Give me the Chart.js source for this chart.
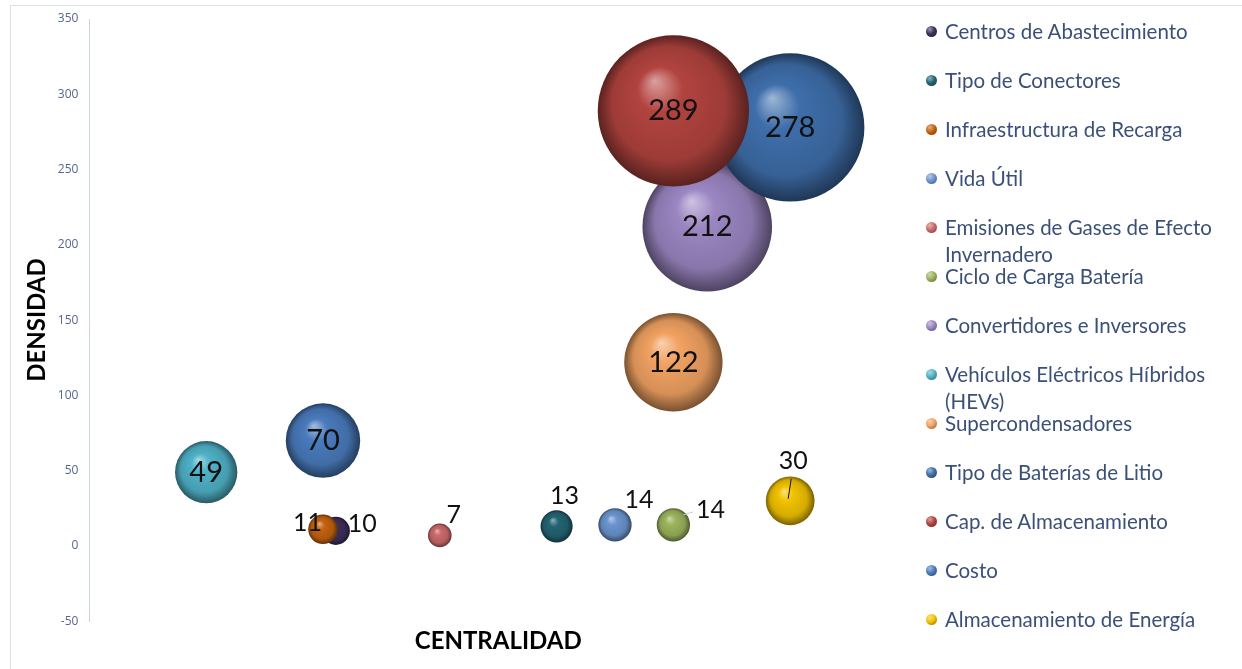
<!DOCTYPE html>
<html>
<head>
<meta charset="utf-8">
<script src="https://cdn.jsdelivr.net/npm/chart.js@4.4.1/dist/chart.umd.min.js"></script>
<style>
  html, body { margin: 0; padding: 0; background: #fff; }
  #wrap { position: relative; width: 1242px; height: 669px; }
  #legend { position: absolute; left: 926px; top: 18px; font-family: Lato, "Open Sans", sans-serif; font-size: 20.5px; color: #3b5078; }
  .item { position: relative; height: 49px; }
  .item .dot { position: absolute; left: 0; top: 8px; width: 11px; height: 11px; border-radius: 50%; }
  .item .txt { position: absolute; left: 19px; top: 0; width: 290px; line-height: 27px; white-space: normal; }
</style>
</head>
<body>
<div id="wrap">
  <canvas id="chart" width="1242" height="669"></canvas>
  <div id="legend"></div>
</div>
<script>
// Series, in legend order
const categorias = [
  'Centros de Abastecimiento',
  'Tipo de Conectores',
  'Infraestructura de Recarga',
  'Vida Útil',
  'Emisiones de Gases de Efecto Invernadero',
  'Ciclo de Carga Batería',
  'Convertidores e Inversores',
  'Vehículos Eléctricos Híbridos (HEVs)',
  'Supercondensadores',
  'Tipo de Baterías de Litio',
  'Cap. de Almacenamiento',
  'Costo',
  'Almacenamiento de Energía'
];
const centralidad = [2.11, 4, 2, 4.5, 3, 5, 5.29, 1, 5, 6, 5, 2, 6];
const densidad = [10, 13, 11, 14, 7, 14, 212, 49, 122, 278, 289, 70, 30];
const tamano = [10, 13, 11, 14, 7, 14, 212, 49, 122, 278, 289, 70, 30];
const yTicks = [-50, 0, 50, 100, 150, 200, 250, 300, 350];

const colores = ['#3d2f5c', '#236473', '#c4620f', '#6b95cf', '#cb6a6b', '#9cb45c', '#9b86c2',
  '#4fb2c8', '#f2a262', '#3e6eab', '#b2433f', '#4a7bbd', '#f2c200'];

// label placement: [dx, dy, align]; null = centered on the bubble
const labelPos = [
  [12, -7, 'left'], [8, -30, 'center'], [-1, -6, 'right'], [24, -25, 'center'],
  [14, -20, 'center'], [37, -15, 'center'], null, null, null, null, null, null, [3, -40, 'center']
];

function shade(hex, amt) {
  const n = parseInt(hex.slice(1), 16);
  let r = n >> 16, g = (n >> 8) & 255, b = n & 255;
  const t = amt < 0 ? 0 : 255, p = Math.abs(amt);
  r = Math.round(r + (t - r) * p); g = Math.round(g + (t - g) * p); b = Math.round(b + (t - b) * p);
  return 'rgb(' + r + ',' + g + ',' + b + ')';
}

function sphere(ctx) {
  const chart = ctx.chart;
  const raw = ctx.raw;
  const base = colores[ctx.datasetIndex];
  if (!raw || !chart.scales || !chart.scales.x) return base;
  const cx = chart.scales.x.getPixelForValue(raw.x);
  const cy = chart.scales.y.getPixelForValue(raw.y);
  const r = raw.r;
  if (!isFinite(cx) || !isFinite(cy) || !isFinite(r)) return base;
  const g = chart.ctx.createRadialGradient(cx - r * 0.25, cy - r * 0.4, 0, cx, cy, r);
  g.addColorStop(0, shade(base, 0.5));
  g.addColorStop(0.3, base);
  g.addColorStop(0.75, shade(base, -0.12));
  g.addColorStop(1, shade(base, -0.5));
  return g;
}

const datasets = categorias.map((c, i) => ({
  label: c,
  data: [{ x: centralidad[i], y: densidad[i], r: 4.45 * Math.sqrt(tamano[i]) }],
  backgroundColor: sphere,
  borderWidth: 0,
  order: -i
}));

const bubbleLabels = {
  id: 'bubbleLabels',
  afterDatasetsDraw(chart) {
    const ctx = chart.ctx;
    ctx.save();
    ctx.fillStyle = '#111';
    ctx.textBaseline = 'middle';
    chart.data.datasets.forEach((ds, i) => {
      const el = chart.getDatasetMeta(i).data[0];
      const v = densidad[i];
      const p = labelPos[i];
      if (!p) {
        ctx.font = '29px Lato, "Open Sans", sans-serif';
        ctx.textAlign = 'center';
        ctx.fillText(v, el.x, el.y);
        return;
      }
      if (i === 12) {
        ctx.strokeStyle = '#111'; ctx.lineWidth = 1;
        ctx.beginPath(); ctx.moveTo(el.x - 2, el.y - 2); ctx.lineTo(el.x + 1, el.y - 22); ctx.stroke();
      }
      if (i === 5) {
        ctx.strokeStyle = '#c3cce0'; ctx.lineWidth = 1;
        ctx.beginPath(); ctx.moveTo(el.x + 10, el.y - 10); ctx.lineTo(el.x + 20, el.y - 13); ctx.stroke();
      }
      ctx.font = '25px Lato, "Open Sans", sans-serif';
      ctx.textAlign = p[2];
      ctx.fillText(v, el.x + p[0], el.y + p[1]);
    });
    ctx.restore();
  }
};

const frame = {
  id: 'frame',
  beforeDraw(chart) {
    const ctx = chart.ctx;
    ctx.save();
    ctx.strokeStyle = '#d8e0ec';
    ctx.lineWidth = 1;
    ctx.beginPath();
    ctx.moveTo(10.5, 669); ctx.lineTo(10.5, 5.5); ctx.lineTo(1242, 5.5);
    ctx.stroke();
    ctx.restore();
  }
};

const htmlLegend = {
  id: 'htmlLegend',
  afterUpdate(chart) {
    const box = document.getElementById('legend');
    box.innerHTML = '';
    chart.data.datasets.forEach((ds, i) => {
      const c = colores[i];
      const item = document.createElement('div');
      item.className = 'item';
      const dot = document.createElement('span');
      dot.className = 'dot';
      dot.style.background = 'radial-gradient(circle at 35% 30%, ' + shade(c, 0.5) + ', ' + c + ' 45%, ' + shade(c, -0.45) + ')';
      const txt = document.createElement('span');
      txt.className = 'txt';
      txt.textContent = ds.label;
      item.appendChild(dot);
      item.appendChild(txt);
      box.appendChild(item);
    });
  }
};

const chart = new Chart(document.getElementById('chart'), {
  type: 'bubble',
  data: { datasets },
  plugins: [frame, bubbleLabels, htmlLegend],
  options: {
    responsive: false,
    animation: false,
    events: [],
    layout: { autoPadding: false, padding: { left: 18, right: 335, top: 19, bottom: 13 } },
    plugins: { legend: { display: false }, tooltip: { enabled: false } },
    scales: {
      x: {
        type: 'linear', min: 0, max: 7,
        grid: { display: false, drawTicks: false },
        border: { display: false },
        ticks: { display: false },
        title: { display: true, text: 'CENTRALIDAD', color: '#000', padding: { top: 6, bottom: 0 },
          font: { family: 'Lato', size: 24, weight: 'bold' } }
      },
      y: {
        type: 'linear', min: -50, max: 350,
        afterBuildTicks: s => { s.ticks = yTicks.map(v => ({ value: v })); },
        grid: { display: false, drawTicks: false },
        border: { display: true, color: '#c8d3e4', width: 1 },
        ticks: { padding: 11, color: '#56678a', font: { family: '"Open Sans"', size: 12 } },
        title: { display: true, text: 'DENSIDAD', color: '#000', padding: { top: 5, bottom: -5 },
          font: { family: 'Lato', size: 24, weight: 'bold' } }
      }
    }
  }
});
chart.update();
</script>
</body>
</html>
